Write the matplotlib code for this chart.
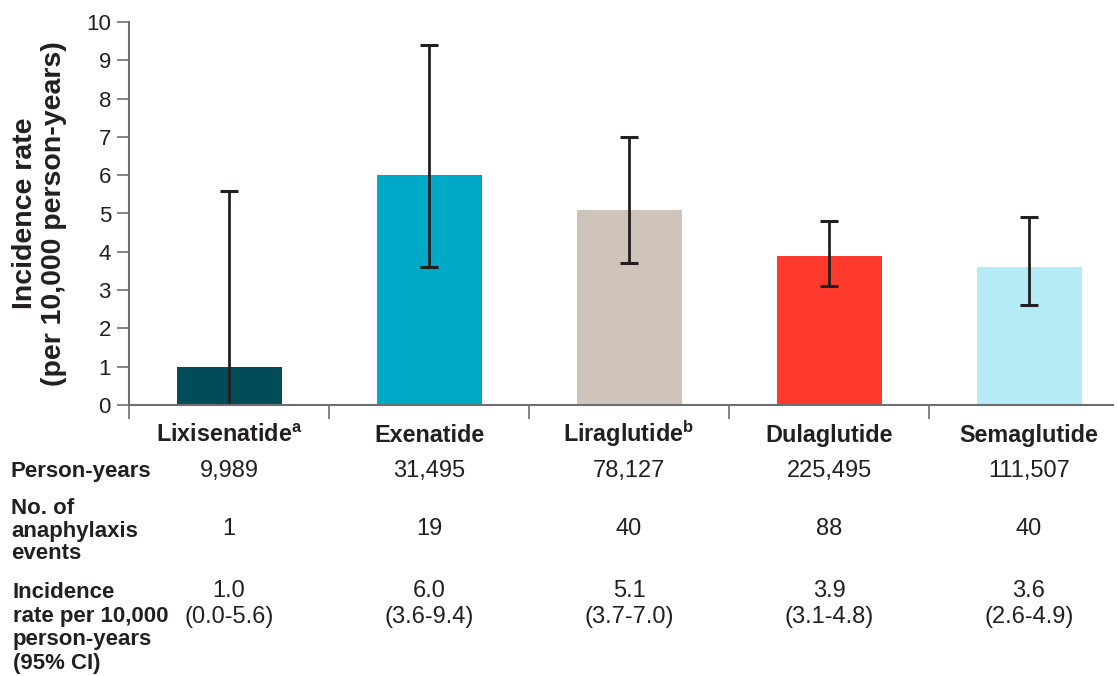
import numpy as np
from matplotlib import pyplot as plt
from matplotlib import transforms

plt.rcParams['font.family'] = ['Liberation Sans', 'DejaVu Sans']
plt.rcParams['mathtext.fontset'] = 'custom'
plt.rcParams['mathtext.rm'] = 'Liberation Sans'
plt.rcParams['mathtext.bf'] = 'Liberation Sans:bold'

drugs = ['Lixisenatide', 'Exenatide', 'Liraglutide', 'Dulaglutide', 'Semaglutide']
footnotes = ['a', '', 'b', '', '']
rates = [1.0, 6.0, 5.1, 3.9, 3.6]
ci_low = [0.0, 3.6, 3.7, 3.1, 2.6]
ci_high = [5.6, 9.4, 7.0, 4.8, 4.9]
person_years = [9989, 31495, 78127, 225495, 111507]
events = [1, 19, 40, 88, 40]
colors = ['#024c59', '#00a9c6', '#cfc4ba', '#ff3a2d', '#b4ebf6']

W, H = 1117, 676
fig = plt.figure(figsize=(W / 100, H / 100), dpi=100)
ax = fig.add_axes([129 / W, 271 / H, (1113 - 129) / W, 383 / H])

x = np.arange(len(drugs))
rates = np.array(rates)
yerr = [rates - np.array(ci_low), np.array(ci_high) - rates]
ax.bar(x, rates, width=0.525, color=colors, zorder=2)
ax.errorbar(x, rates, yerr=yerr, fmt='none', ecolor='#231f20',
            elinewidth=2, capsize=6.5, capthick=2.2, zorder=2.4)

ax.set_yticks(range(0, 11))
ax.tick_params(axis='y', labelsize=16, length=9, width=1.2, color='#6d6e71',
               labelcolor='#231f20', pad=4)

# category boundaries as x ticks
ax.set_xticks(np.arange(-0.5, len(drugs) - 1, 1.0))
ax.set_xticklabels([])
ax.tick_params(axis='x', length=10, width=1.2, color='#6d6e71', direction='out')
ax.set_xlim(-0.5, -0.5 + (1113 - 129) / 200)
ax.set_ylim(0, 10)

for s in ['top', 'right']:
    ax.spines[s].set_visible(False)
for s in ['left', 'bottom']:
    ax.spines[s].set_color('#6d6e71')
    ax.spines[s].set_linewidth(1.5)

ax.set_ylabel('Incidence rate\n(per 10,000 person-years)', fontsize=20.5,
              fontweight='bold', color='#231f20', linespacing=1.15, labelpad=14)

# table below the chart
trans = transforms.blended_transform_factory(ax.transData, fig.transFigure)
def fy(py):
    return 1 - py / H

for i in range(len(drugs)):
    name = drugs[i] + (r'$^{\mathbf{%s}}$' % footnotes[i] if footnotes[i] else '')
    ax.text(x[i], fy(442), name, fontsize=16.8, fontweight='bold', color='#231f20',
            ha='center', va='baseline', transform=trans)

row_kw = dict(fontsize=16, fontweight='bold', color='#231f20', va='center', ha='left')
fig.text(11 / W, fy(472), 'Person-years', **row_kw)
fig.text(11 / W, fy(531), 'No. of\nanaphylaxis\nevents', linespacing=1.12, **row_kw)
fig.text(13 / W, fy(628), 'Incidence\nrate per 10,000\nperson-years\n(95% CI)',
         linespacing=1.15, **row_kw)

val_kw = dict(fontsize=17, color='#231f20', va='center', ha='center', transform=trans)
for i in range(len(drugs)):
    ax.text(x[i], fy(471), f'{person_years[i]:,}', **val_kw)
    ax.text(x[i], fy(529), str(events[i]), **val_kw)
    ax.text(x[i], fy(604), f'{rates[i]:.1f}\n({ci_low[i]:.1f}-{ci_high[i]:.1f})',
            linespacing=1.18, **val_kw)

plt.savefig('out.png', dpi=100)
